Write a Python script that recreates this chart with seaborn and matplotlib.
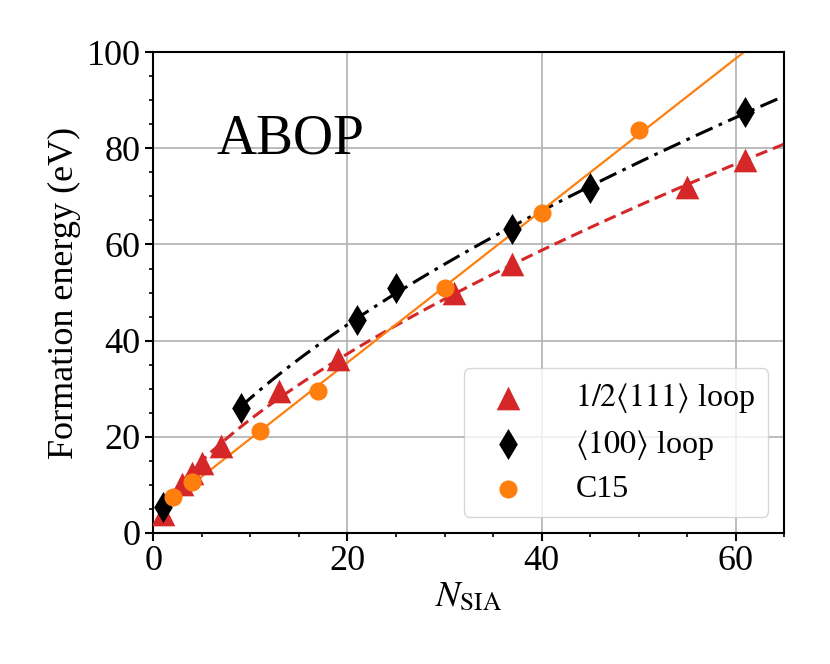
import numpy as np
import pandas as pd
import matplotlib
matplotlib.use("Agg")
import matplotlib.pyplot as plt
import seaborn as sns
from matplotlib.ticker import MultipleLocator

# Energías de formación (ABOP)
n_111 = [1, 3, 4, 5, 7, 13, 19, 31, 37, 55, 61]
e_111 = [4.0, 10.2, 12.4, 14.6, 18.0, 29.5, 36.2, 50.0, 56.0, 72.0, 77.5]

n_100 = [1, 9, 21, 25, 37, 45, 61]
e_100 = [5.4, 26.0, 44.3, 51.0, 63.2, 71.8, 87.6]

n_c15 = [2, 4, 11, 17, 30, 40, 50]
e_c15 = [7.4, 10.6, 21.2, 29.6, 51.0, 66.5, 83.8]

label_111 = r'$1/2\langle 111\rangle$ loop'
label_100 = r'$\langle 100\rangle$ loop'
label_c15 = 'C15'

sns.set_theme(style="ticks")
plt.rcParams['font.family'] = ['Liberation Serif', 'DejaVu Serif']
plt.rcParams['mathtext.fontset'] = 'stix'
plt.rcParams['axes.linewidth'] = 1.5
plt.rcParams['axes.edgecolor'] = 'black'
plt.rcParams['text.color'] = 'black'
plt.rcParams['axes.labelcolor'] = 'black'
plt.rcParams['xtick.color'] = 'black'
plt.rcParams['ytick.color'] = 'black'


def power_fit(x, y):
    # ajuste E = a * N^b (pesos ~ y para acercarse a mínimos cuadrados lineales)
    b, lna = np.polyfit(np.log(x), np.log(y), 1, w=y)
    return lambda t: np.exp(lna) * t ** b


fit_111 = power_fit(np.array(n_111), np.array(e_111))
n100_arr = np.array(n_100)
mask = n100_arr >= 9
fit_100 = power_fit(n100_arr[mask], np.array(e_100)[mask])
slope, icpt = np.polyfit(n_c15, e_c15, 1)

x_111 = np.linspace(1, 65, 200)
x_100 = np.linspace(9, 65, 200)
x_c15 = np.linspace(2, 65, 200)

fig = plt.figure(figsize=(8.3, 6.64), dpi=100)
ax = fig.add_axes([0.1847, 0.1977, 0.7602, 0.7235])

red = '#d62728'
orange = '#ff7f0e'

sns.lineplot(x=x_111, y=fit_111(x_111), ax=ax, color=red, lw=2.2,
             linestyle=(0, (4, 2)), legend=False)
sns.lineplot(x=x_100, y=fit_100(x_100), ax=ax, color='black', lw=2.2,
             linestyle=(0, (6, 2.2, 1.2, 2.2)), legend=False)
sns.lineplot(x=x_c15, y=slope * x_c15 + icpt, ax=ax, color=orange, lw=1.6,
             legend=False)

sns.scatterplot(x=n_111, y=e_111, ax=ax, marker='^', s=290, color=red,
                linewidth=0, label=label_111, zorder=3)
sns.scatterplot(x=n_100, y=e_100, ax=ax, marker='d', s=250, color='black',
                linewidth=0, label=label_100, zorder=3)
sns.scatterplot(x=n_c15, y=e_c15, ax=ax, marker='o', s=170, color=orange,
                linewidth=0, label=label_c15, zorder=3)

ax.set_xlim(0, 65)
ax.set_ylim(0, 100)
ax.xaxis.set_major_locator(MultipleLocator(20))
ax.xaxis.set_minor_locator(MultipleLocator(5))
ax.yaxis.set_major_locator(MultipleLocator(20))
ax.yaxis.set_minor_locator(MultipleLocator(5))
ax.tick_params(which='major', length=5.5, width=1.5, labelsize=26, color='black')
ax.tick_params(which='minor', length=3, width=1.2, color='black')
ax.grid(True, which='major', color='#b0b0b0', lw=1.2)
ax.set_axisbelow(True)
for s in ax.spines.values():
    s.set_visible(True)
    s.set_color('black')

ax.set_xlabel(r'$N_{\rm SIA}$', fontsize=26, labelpad=2)
ax.set_ylabel('Formation energy (eV)', fontsize=26, labelpad=4)
ax.text(0.1, 0.79, 'ABOP', transform=ax.transAxes, fontsize=40)

ax.legend(loc='lower right', fontsize=23, frameon=True, framealpha=0.8,
          edgecolor='#cccccc', borderaxespad=0.5, handletextpad=1.1,
          labelspacing=0.4, borderpad=0.4)

fig.savefig('out.png', dpi=100)
